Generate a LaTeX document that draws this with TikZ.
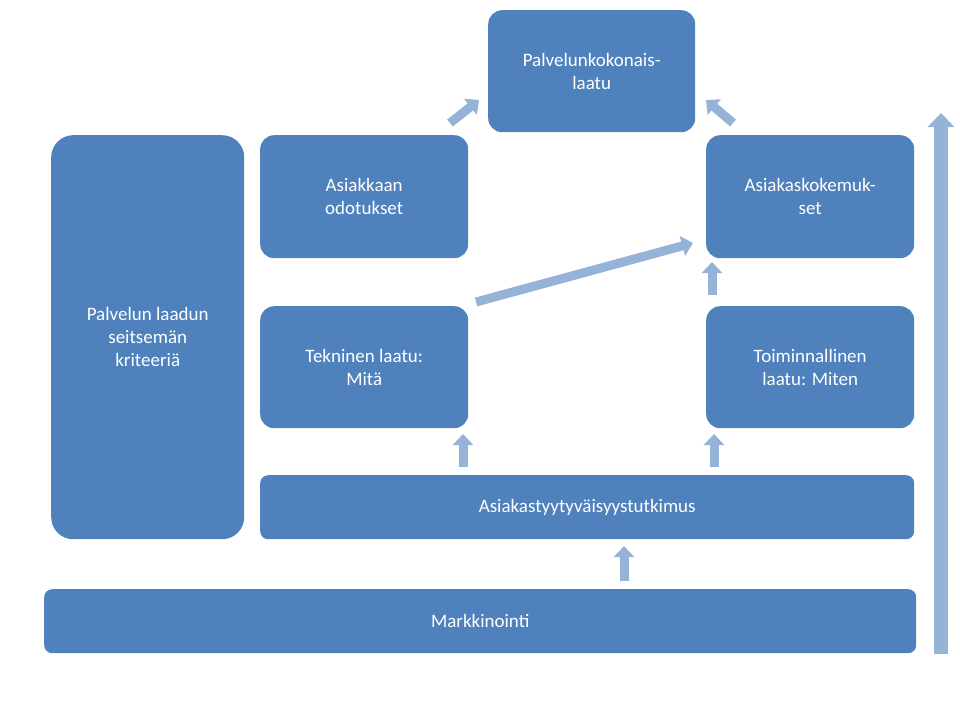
\documentclass[tikz,border=0pt]{standalone}
\usepackage{fontspec}
\setmainfont{Carlito}
\usetikzlibrary{arrows.meta}
\tikzset{
  qbox/.style    = {shape=rectangle, rounded corners=14pt, draw=none,
                    fill=qblue, align=center, text=white, anchor=north west,
                    font=\fontsize{19}{23}\selectfont, inner sep=2pt},
  qarrow/.style  = {draw=qlight, line width=9pt,
                    -{Triangle[width=20pt,length=11pt]}},
  qbig/.style    = {draw=qlight, line width=14pt,
                    -{Triangle[width=26pt,length=14pt]}}
}
\definecolor{qblue}{HTML}{4F81BD}
\definecolor{qlight}{HTML}{95B3D7}
\begin{document}
\begin{tikzpicture}[x=1pt,y=-1pt]
  \useasboundingbox (0,0) rectangle (960,720);
  % boxes
  \node [qbox, minimum width=207pt, minimum height=122pt] (kok) at (488,10) {Palvelunkokonais-\\laatu};
  \node [qbox, minimum width=208pt, minimum height=123pt] (odo) at (260,135) {Asiakkaan\\odotukset};
  \node [qbox, minimum width=208pt, minimum height=123pt] (kem) at (706,135) {Asiakaskokemuk-\\set};
  \node [qbox, minimum width=193pt, minimum height=404pt, rounded corners=22pt] (kri) at (51,135) {Palvelun laadun\\seitsemän\\kriteeriä};
  \node [qbox, minimum width=208pt, minimum height=122pt] (tek) at (260,306) {Tekninen laatu:\\Mitä};
  \node [qbox, minimum width=208pt, minimum height=122pt] (toi) at (706,306) {Toiminnallinen\\laatu: Miten};
  \node [qbox, minimum width=654pt, minimum height=64pt, rounded corners=8pt] (tut) at (260,475) {Asiakastyytyväisyystutkimus};
  \node [qbox, minimum width=872pt, minimum height=64pt, rounded corners=8pt] (mar) at (44,589) {Markkinointi};
  % arrows
  \coordinate (a1) at (463,467); \coordinate (b1) at (463,434);
  \coordinate (a2) at (714,467); \coordinate (b2) at (714,434);
  \coordinate (a3) at (624,581); \coordinate (b3) at (624,546);
  \coordinate (a4) at (712,295); \coordinate (b4) at (712,262);
  \coordinate (a5) at (476,302); \coordinate (b5) at (693,243);
  \coordinate (a6) at (450,123); \coordinate (b6) at (479,100);
  \coordinate (a7) at (733,123); \coordinate (b7) at (706,100);
  \coordinate (a8) at (941,654); \coordinate (b8) at (941,113);
  \foreach \i in {1,...,7} \draw [qarrow] (a\i) -- (b\i);
  \draw [qbig] (a8) -- (b8);
\end{tikzpicture}
\end{document}
